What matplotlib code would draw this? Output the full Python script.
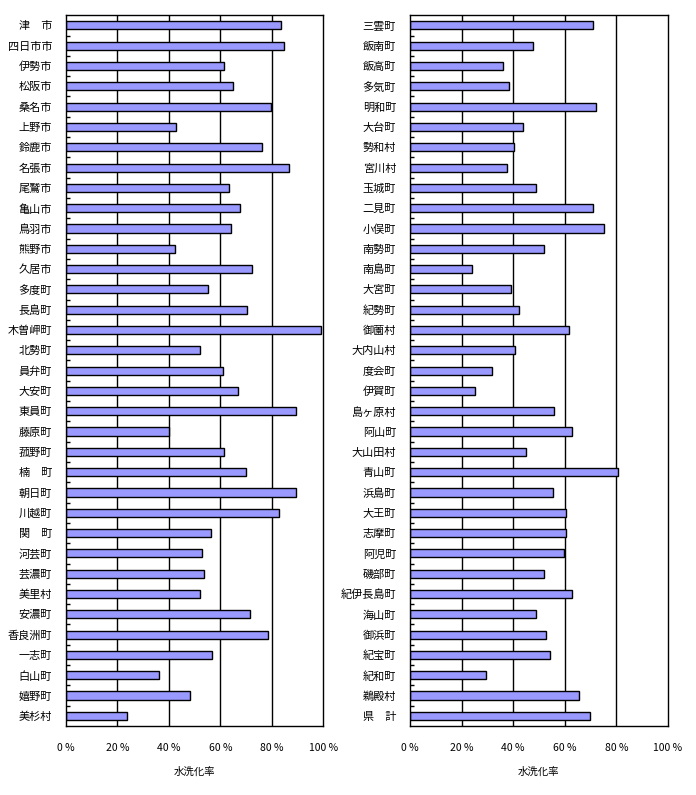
import matplotlib
matplotlib.use('Agg')
import matplotlib.pyplot as plt
import numpy as np

plt.rcParams['font.family'] = ['Noto Sans CJK JP', 'DejaVu Sans']

# 市町村名と水洗化率（%）
left_names = ['津\u3000市', '四日市市', '伊勢市', '松阪市', '桑名市', '上野市', '鈴鹿市',
              '名張市', '尾鷲市', '亀山市', '鳥羽市', '熊野市', '久居市', '多度町',
              '長島町', '木曽岬町', '北勢町', '員弁町', '大安町', '東員町', '藤原町',
              '菰野町', '楠\u3000町', '朝日町', '川越町', '関\u3000町', '河芸町', '芸濃町',
              '美里村', '安濃町', '香良洲町', '一志町', '白山町', '嬉野町', '美杉村']
left_values = [83.8, 84.6, 61.6, 65.1, 79.7, 42.6, 76.3,
               86.9, 63.5, 67.8, 64.3, 42.2, 72.4, 55.4,
               70.5, 99.2, 52.3, 61.2, 67.0, 89.5, 40.2,
               61.6, 70.1, 89.5, 82.9, 56.5, 52.7, 53.8,
               52.3, 71.7, 78.7, 56.9, 36.0, 48.4, 23.9]

right_names = ['三雲町', '飯南町', '飯高町', '多気町', '明和町', '大台町', '勢和村',
               '宮川村', '玉城町', '二見町', '小俣町', '南勢町', '南島町', '大宮町',
               '紀勢町', '御薗村', '大内山村', '度会町', '伊賀町', '島ヶ原村', '阿山町',
               '大山田村', '青山町', '浜島町', '大王町', '志摩町', '阿児町', '磯部町',
               '紀伊長島町', '海山町', '御浜町', '紀宝町', '紀和町', '鵜殿村', '県\u3000計']
right_values = [70.9, 47.7, 36.0, 38.4, 72.1, 43.8, 40.2,
                37.6, 48.8, 70.9, 75.2, 51.9, 24.0, 39.1,
                42.2, 61.6, 40.7, 31.8, 25.2, 55.8, 62.8,
                45.0, 80.6, 55.4, 60.5, 60.5, 59.7, 51.9,
                62.8, 48.8, 52.7, 54.3, 29.5, 65.5, 69.8]

xticks = [0, 20, 40, 60, 80, 100]
xticklabels = ['0 %', '20 %', '40 %', '60 %', '80 %', '100 %']

fig = plt.figure(figsize=(6.96, 7.95), dpi=100)
ax1 = fig.add_axes([0.0948, 0.0868, 0.3695, 0.894])
ax2 = fig.add_axes([0.589, 0.0868, 0.3707, 0.894])

for ax, names, values in [(ax1, left_names, left_values), (ax2, right_names, right_values)]:
    y = np.arange(len(names))
    for gx in xticks[1:-1]:
        ax.axvline(gx, color='black', linewidth=1.0, zorder=1)
    ax.barh(y, values, height=0.4, color='#9999FF', edgecolor='black',
            linewidth=1.0, zorder=2)
    ax.set_xlim(0, 100)
    ax.set_ylim(len(names) - 0.5, -0.5)
    ax.set_yticks(y)
    ax.set_yticklabels(names, fontsize=8)
    ax.set_yticks(np.arange(len(names) - 1) + 0.5, minor=True)
    ax.tick_params(axis='y', which='major', length=0, pad=10)
    ax.tick_params(axis='y', which='minor', length=3, direction='in', width=1)
    ax.set_xticks(xticks)
    ax.set_xticklabels(xticklabels, fontsize=7.5)
    ax.tick_params(axis='x', length=0, pad=12)
    ax.set_xlabel('水洗化率', fontsize=7.5, labelpad=10)
    for s in ax.spines.values():
        s.set_linewidth(1.0)
        s.set_color('black')

fig.savefig('out.png', dpi=100)
